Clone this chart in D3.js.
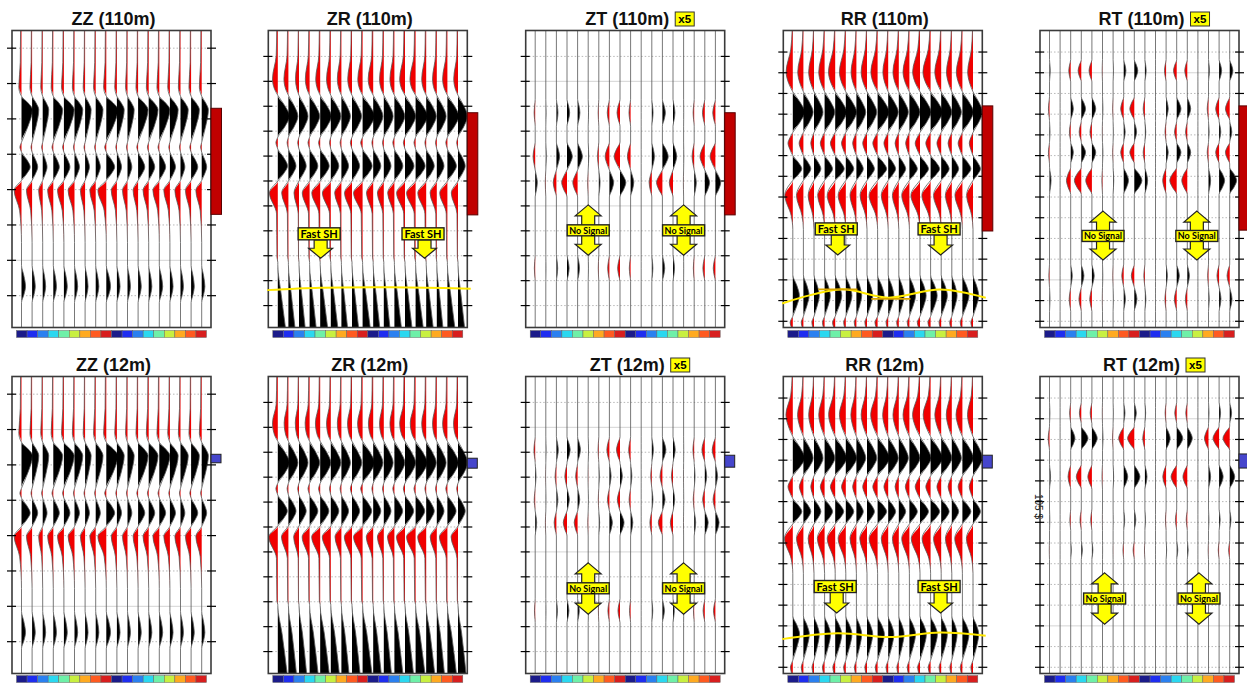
<!DOCTYPE html>
<html>
<head>
<meta charset="utf-8">
<script src="https://cdn.jsdelivr.net/npm/d3@7"></script>
<style>
  body { margin: 0; background: #fff; }
  text { font-family: "Liberation Sans", Arial, sans-serif; }
  .note { font-family: Lato, "Liberation Sans", sans-serif; font-weight: bold; }
</style>
</head>
<body>
<svg id="chart"></svg>
<script>
// ---- component time axes (ms) ----
var compTmax = [420, 596, 596, 717, 717];
var zzTicks = [25, 75, 125, 175, 225, 275, 325, 375];
var zrTicks = [52, 102, 152, 202, 252, 302, 352, 402, 452, 502, 552];
var rrTicks = [52, 102, 152, 202, 252, 302, 352, 402, 452, 502, 552, 602, 652, 702];
var zzSolid = [75, 325];
var zrSolid = [102, 352];
var rrSolid = [102, 602];

var titles110 = ["ZZ (110m)", "ZR (110m)", "ZT (110m)", "RR (110m)", "RT (110m)"];
var titles12 = ["ZZ (12m)", "ZR (12m)", "ZT (12m)", "RR (12m)", "RT (12m)"];
var gainFlag = [false, false, true, false, true];

// colour bar under each panel (18 receivers)
var barColors = ["#1b1b8a", "#1e2df0", "#2a80f0", "#2ad8f0", "#6ef0a8", "#c8f040", "#ffaa20", "#ff5a20", "#d81e1e",
                 "#1b1b8a", "#1e2df0", "#2a80f0", "#2ad8f0", "#6ef0a8", "#c8f040", "#ffaa20", "#ff5a20", "#d81e1e"];

// analysis windows (ms)
var win110 = [[110, 260], [165, 370], [165, 370], [182, 484], [182, 482]];
var win12 = [[110, 122], [164, 184], [158, 182], [190, 221], [187, 221]];

// ---- ZZ ----
var zz110Times = [[0, 45, 80, 93], [93, 112, 158], [158, 165, 172], [172, 193, 212], [212, 226, 255, 300], [332, 362, 385]];
var zz110Shape = [[0.35, 0.45, 1, 0], null, null, null, [0, 1, 0.25, 0], null];
var zz110Amp = [
  [-0.25, -0.2, -0.18, -0.2, -0.22, -0.2, -0.18, -0.2, -0.25, -0.2, -0.18, -0.2, -0.22, -0.22, -0.2, -0.2, -0.2, -0.22],
  [1.04, 0.63, 0.57, 0.88, 0.97, 0.78, 0.57, 0.69, 1.1, 0.69, 0.63, 0.94, 0.88, 1.0, 0.78, 0.73, 0.78, 0.63],
  [-0.15, -0.1, -0.1, -0.12, -0.12, -0.1, -0.1, -0.1, -0.15, -0.1, -0.1, -0.12, -0.12, -0.12, -0.1, -0.1, -0.12, -0.1],
  [0.82, 0.53, 0.41, 0.57, 0.57, 0.47, 0.41, 0.44, 0.79, 0.44, 0.41, 0.63, 0.57, 0.6, 0.53, 0.41, 0.63, 0.47],
  [-0.69, -0.53, -0.38, -0.53, -0.6, -0.6, -0.44, -0.55, -0.79, -0.53, -0.47, -0.47, -0.53, -0.6, -0.57, -0.53, -0.53, -0.55],
  [0.38, 0.3, 0.28, 0.3, 0.32, 0.3, 0.28, 0.3, 0.4, 0.3, 0.28, 0.3, 0.3, 0.32, 0.3, 0.28, 0.3, 0.3]
];
var zz12Times = zz110Times;
var zz12Shape = zz110Shape;
var zz12Amp = zz110Amp;

// ---- ZR ----
var zr110Times = [[0, 50, 97, 118, 130], [130, 172, 214], [214, 225, 238], [238, 272, 302], [302, 326, 368, 455, 465], [470, 530, 596]];
var zr110Shape = [[0.2, 0.3, 1, 0.6, 0], null, null, null, [0, 1, 0.15, 0.1, 0], [0, 0.45, 1, 0.4, 0.1]];
var zr110Amp = [
  [-0.5, -0.42, -0.33, -0.4, -0.42, -0.4, -0.38, -0.4, -0.45, -0.47, -0.4, -0.42, -0.5, -0.53, -0.42, -0.4, -0.45, -0.4],
  [1.1, 0.9, 0.85, 0.95, 1.05, 0.95, 0.85, 0.9, 1.12, 0.92, 0.88, 0.98, 1.0, 1.12, 0.95, 0.88, 1.08, 0.9],
  [-0.18, -0.12, -0.12, -0.15, -0.15, -0.12, -0.12, -0.15, -0.18, -0.12, -0.12, -0.15, -0.15, -0.15, -0.12, -0.12, -0.15, -0.12],
  [0.92, 0.72, 0.68, 0.78, 0.85, 0.76, 0.68, 0.72, 0.9, 0.72, 0.68, 0.8, 0.85, 0.9, 0.76, 0.68, 0.85, 0.68],
  [-0.79, -0.63, -0.47, -0.69, -0.79, -0.79, -0.63, -0.7, -0.85, -0.63, -0.6, -0.63, -0.79, -0.85, -0.79, -0.63, -0.72, -0.63],
  [0.72, 0.62, 0.58, 0.62, 0.7, 0.66, 0.58, 0.62, 0.72, 0.62, 0.58, 0.66, 0.66, 0.72, 0.66, 0.58, 0.7, 0.62]
];
var zr12Times = [[0, 55, 93, 118, 130], [130, 173, 214], [214, 225, 238], [238, 270, 300], [300, 322, 365, 450, 458], [460, 515, 596]];
var zr12Shape = zr110Shape;
var zr12Amp = [
  [-0.5, -0.4, -0.35, -0.42, -0.45, -0.4, -0.38, -0.42, -0.47, -0.45, -0.4, -0.42, -0.5, -0.5, -0.42, -0.4, -0.45, -0.42],
  [1.1, 0.9, 0.85, 0.95, 1.0, 0.95, 0.85, 0.92, 1.12, 0.92, 0.88, 0.98, 1.0, 1.1, 0.95, 0.88, 1.05, 0.92],
  [-0.18, -0.12, -0.12, -0.15, -0.15, -0.12, -0.12, -0.15, -0.18, -0.12, -0.12, -0.15, -0.15, -0.15, -0.12, -0.12, -0.15, -0.12],
  [0.9, 0.72, 0.68, 0.78, 0.82, 0.76, 0.68, 0.72, 0.86, 0.72, 0.68, 0.78, 0.82, 0.86, 0.76, 0.68, 0.82, 0.68],
  [-0.85, -0.65, -0.5, -0.7, -0.8, -0.8, -0.6, -0.72, -0.85, -0.65, -0.6, -0.65, -0.8, -0.85, -0.8, -0.62, -0.75, -0.65],
  [0.88, 0.76, 0.72, 0.8, 0.85, 0.8, 0.72, 0.76, 0.88, 0.76, 0.72, 0.8, 0.8, 0.88, 0.8, 0.72, 0.85, 0.76]
];

// ---- ZT (x5) ----
var zt110Times = [[138, 165, 192], [224, 253, 280], [280, 305, 334], [450, 477, 504]];
var zt110Shape = [null, null, null, null];
var zt110Amp = [
  [-0.1, 0.03, 0.15, 0.25, 0.22, 0.03, -0.06, -0.2, -0.28, -0.15, 0, 0.12, 0.28, 0.18, 0.01, -0.1, -0.22, -0.25],
  [-0.2, 0.05, 0.3, 0.5, 0.45, 0.05, -0.12, -0.4, -0.55, -0.3, 0, 0.25, 0.55, 0.35, 0.02, -0.2, -0.45, -0.5],
  [0.2, -0.05, -0.3, -0.5, -0.45, -0.05, 0.12, 0.4, 0.55, 0.3, 0, -0.25, -0.55, -0.35, -0.02, 0.2, 0.45, 0.5],
  [-0.08, 0.02, 0.12, 0.2, 0.18, 0.02, -0.05, -0.16, -0.22, -0.12, 0, 0.1, 0.22, 0.14, 0.01, -0.08, -0.18, -0.2]
];
var zt12Times = [[121, 147, 173], [174, 200, 224], [224, 247, 270], [270, 293, 320], [446, 470, 494]];
var zt12Shape = [null, null, null, null, null];
var zt12Amp = [
  [-0.12, 0.03, 0.18, 0.3, 0.27, 0.03, -0.07, -0.24, -0.33, -0.18, 0, 0.15, 0.33, 0.21, 0.01, -0.12, -0.27, -0.3],
  [0.08, -0.02, -0.12, -0.2, -0.18, -0.02, 0.05, 0.16, 0.22, 0.12, 0, -0.1, -0.22, -0.14, -0.01, 0.08, 0.18, 0.2],
  [-0.09, 0.02, 0.14, 0.22, 0.2, 0.02, -0.05, -0.18, -0.25, -0.14, 0, 0.11, 0.25, 0.16, 0.01, -0.09, -0.2, -0.22],
  [0.14, -0.04, -0.21, -0.35, -0.32, -0.04, 0.08, 0.28, 0.38, 0.21, 0, -0.18, -0.38, -0.25, -0.01, 0.14, 0.32, 0.35],
  [-0.07, 0.02, 0.1, 0.18, 0.16, 0.02, -0.04, -0.14, -0.19, -0.1, 0, 0.09, 0.19, 0.12, 0.01, -0.07, -0.16, -0.18]
];

// ---- RR ----
var rr110Times = [[0, 45, 100, 128, 148], [148, 197, 246], [246, 272, 302], [302, 334, 362], [362, 398, 447, 480], [590, 640, 690], [690, 705, 717]];
var rr110Shape = [[0.1, 0.3, 1, 0.6, 0], null, null, null, [0, 1, 0.2, 0], null, [0, 1, 0.5]];
var rr110Amp = [
  [-0.63, -0.53, -0.5, -0.55, -0.63, -0.6, -0.5, -0.55, -0.63, -0.5, -0.55, -0.6, -0.69, -0.72, -0.6, -0.5, -0.57, -0.5],
  [1.12, 0.92, 0.85, 0.96, 1.08, 1.02, 0.88, 0.92, 1.08, 0.95, 0.9, 1.0, 1.04, 1.12, 1.0, 0.9, 1.04, 0.9],
  [-0.45, -0.4, -0.3, -0.4, -0.45, -0.4, -0.35, -0.4, -0.45, -0.4, -0.35, -0.35, -0.45, -0.45, -0.4, -0.35, -0.4, -0.35],
  [0.85, 0.7, 0.65, 0.75, 0.85, 0.75, 0.65, 0.7, 0.85, 0.7, 0.65, 0.75, 0.8, 0.85, 0.75, 0.65, 0.8, 0.7],
  [-0.75, -0.65, -0.55, -0.65, -0.75, -0.72, -0.6, -0.65, -0.8, -0.65, -0.6, -0.72, -0.85, -0.82, -0.72, -0.6, -0.7, -0.6],
  [0.62, 0.54, 0.5, 0.54, 0.62, 0.58, 0.5, 0.54, 0.62, 0.54, 0.5, 0.58, 0.58, 0.62, 0.58, 0.5, 0.62, 0.54],
  [-0.25, -0.2, -0.2, -0.2, -0.25, -0.2, -0.2, -0.2, -0.25, -0.2, -0.2, -0.2, -0.25, -0.25, -0.2, -0.2, -0.2, -0.2]
];
var rr12Times = [[0, 45, 92, 122, 145], [145, 197, 240], [240, 266, 295], [295, 326, 356], [356, 391, 440, 475], [578, 622, 685], [685, 702, 717]];
var rr12Shape = rr110Shape;
var rr12Amp = [
  [-0.65, -0.55, -0.5, -0.55, -0.62, -0.6, -0.52, -0.55, -0.65, -0.52, -0.55, -0.6, -0.7, -0.7, -0.6, -0.52, -0.6, -0.52],
  [1.12, 0.92, 0.85, 0.96, 1.08, 1.02, 0.88, 0.92, 1.12, 0.95, 0.9, 1.0, 1.04, 1.12, 1.0, 0.9, 1.04, 0.9],
  [-0.45, -0.38, -0.3, -0.4, -0.45, -0.4, -0.35, -0.4, -0.45, -0.4, -0.35, -0.38, -0.45, -0.45, -0.4, -0.35, -0.4, -0.35],
  [0.85, 0.7, 0.65, 0.75, 0.8, 0.75, 0.65, 0.7, 0.85, 0.7, 0.65, 0.75, 0.8, 0.85, 0.75, 0.65, 0.8, 0.7],
  [-0.78, -0.65, -0.55, -0.68, -0.75, -0.72, -0.6, -0.68, -0.8, -0.65, -0.6, -0.72, -0.82, -0.8, -0.72, -0.6, -0.72, -0.62],
  [0.64, 0.56, 0.5, 0.56, 0.62, 0.58, 0.5, 0.54, 0.64, 0.54, 0.5, 0.58, 0.6, 0.64, 0.58, 0.5, 0.62, 0.54],
  [-0.22, -0.2, -0.18, -0.2, -0.22, -0.2, -0.18, -0.2, -0.22, -0.2, -0.18, -0.2, -0.22, -0.22, -0.2, -0.18, -0.2, -0.2]
];

// ---- RT (x5) ----
var rt110Times = [[70, 97, 124], [160, 189, 217], [219, 245, 269], [270, 294, 322], [330, 362, 396], [564, 592, 620], [620, 648, 678]];
var rt110Shape = [null, null, null, null, null, null, null];
var rt110Amp = [
  [0.07, 0, -0.18, -0.3, -0.27, -0.03, 0.03, 0.21, 0.33, 0.12, 0, -0.15, -0.3, -0.24, 0, 0.09, 0.24, 0.3],
  [-0.1, 0, 0.25, 0.4, 0.36, 0.04, -0.04, -0.28, -0.42, -0.16, 0, 0.2, 0.4, 0.32, 0, -0.12, -0.32, -0.4],
  [0.05, 0, -0.12, -0.2, -0.18, -0.02, 0.02, 0.14, 0.22, 0.08, 0, -0.1, -0.2, -0.16, 0, 0.06, 0.16, 0.2],
  [-0.1, 0, 0.25, 0.4, 0.36, 0.04, -0.04, -0.28, -0.42, -0.16, 0, 0.2, 0.4, 0.32, 0, -0.12, -0.32, -0.4],
  [0.15, 0, -0.4, -0.65, -0.58, -0.06, 0.06, 0.45, 0.72, 0.26, 0, -0.32, -0.65, -0.52, 0, 0.2, 0.52, 0.65],
  [-0.06, 0, 0.15, 0.25, 0.22, 0.03, -0.03, -0.18, -0.28, -0.1, 0, 0.12, 0.25, 0.2, 0, -0.08, -0.2, -0.25],
  [0.05, 0, -0.14, -0.22, -0.2, -0.02, 0.02, 0.16, 0.25, 0.09, 0, -0.11, -0.22, -0.18, 0, 0.07, 0.18, 0.22]
];
var rt12Times = [[62, 88, 114], [120, 149, 178], [212, 242, 272], [320, 346, 372], [396, 419, 442]];
var rt12Shape = [null, null, null, null, null];
var rt12Amp = [
  [0.04, 0, -0.1, -0.18, -0.16, -0.02, 0.02, 0.12, 0.19, 0.07, 0, -0.09, -0.18, -0.14, 0, 0.05, 0.14, 0.18],
  [-0.12, 0, 0.4, 0.63, 0.5, 0.05, -0.05, -0.47, -0.63, -0.2, 0, 0.38, 0.57, 0.47, 0, -0.38, -0.57, -0.63],
  [0.1, 0, -0.25, -0.47, -0.38, -0.05, 0.05, 0.38, 0.53, 0.2, 0, -0.31, -0.53, -0.41, 0, 0.2, 0.38, 0.47],
  [0.03, 0, -0.08, -0.12, -0.11, -0.01, 0.01, 0.09, 0.14, 0.05, 0, -0.06, -0.12, -0.1, 0, 0.04, 0.1, 0.12],
  [-0.02, 0, 0.06, 0.1, 0.09, 0.01, -0.01, -0.07, -0.11, -0.04, 0, 0.05, 0.1, 0.08, 0, -0.03, -0.08, -0.1]
];

// ---- annotations: [row, col], trace positions, box time, arrow tip / span ----
var fastShPanel = [[0, 1], [0, 3], [1, 3]];
var fastShIdx = [[3.9, 13.7], [4.1, 13.8], [4.0, 13.8]];
var fastShTime = [408, 479, 507];
var fastShTip = [457, 542, 571];

var noSigPanel = [[0, 2], [0, 4], [1, 2], [1, 4]];
var noSigIdx = [[5.0, 14.0], [5.05, 13.9], [5.0, 14.0], [5.2, 14.1]];
var noSigTime = [401, 496, 425, 536];
var noSigSpan = [[350, 451], [436, 554], [374, 477], [474, 598]];

// picked horizons (trace index, ms)
var pickPanel = [[0, 1], [0, 3], [1, 3]];
var pickLines = [
  [[-1, 521], [4, 516], [9, 515], [14, 516], [18.2, 518]],
  [[-1, 659], [4.5, 625], [9, 645], [13.9, 625], [18.2, 645]],
  [[-1, 634], [4.2, 620], [9.2, 629], [13.9, 618], [18.2, 626]]
];
var pickSegments = [[[2.4, 625], [6.1, 625]], [[7.4, 648], [11.1, 648]]];

// ---------------------------------------------------------------
var svg = d3.select("#chart").attr("width", 1247).attr("height", 687);
var frameW = 199, frameH = 297;
var colX = [12, 268.3, 525.7, 783.3, 1040];
var rowY = [30.5, 376.5];
var lobeShape = [0, 0.6, 1, 0.6, 0];   // default wavelet lobe: zero, shoulder, peak, shoulder, zero

var compTicks = [zzTicks, zrTicks, zrTicks, rrTicks, rrTicks];
var compSolid = [zzSolid, zrSolid, zrSolid, rrSolid, rrSolid];
var rowTitles = [titles110, titles12];
var rowWin = [win110, win12];
var rowTimes = [[zz110Times, zr110Times, zt110Times, rr110Times, rt110Times], [zz12Times, zr12Times, zt12Times, rr12Times, rt12Times]];
var rowShape = [[zz110Shape, zr110Shape, zt110Shape, rr110Shape, rt110Shape], [zz12Shape, zr12Shape, zt12Shape, rr12Shape, rt12Shape]];
var rowAmp = [[zz110Amp, zr110Amp, zt110Amp, rr110Amp, rt110Amp], [zz12Amp, zr12Amp, zt12Amp, rr12Amp, rt12Amp]];

function tracePoints(times, shape, amp, j, tmax) {
  var pts = [[0, 0]];
  times.forEach(function(ts, l) {
    var sh = shape[l], tt = ts;
    if (!sh) {
      // plain lobe: start, peak, end -> add shoulders half way
      tt = [ts[0], (ts[0] + ts[1]) / 2, ts[1], (ts[1] + ts[2]) / 2, ts[2]];
      sh = lobeShape;
    }
    tt.forEach(function(t, k) {
      var v = sh[k] * amp[l][j];
      var last = pts[pts.length - 1];
      if (t <= last[0]) {
        if (t === last[0] && v !== 0) last[1] = v;
        return;
      }
      pts.push([t, v]);
    });
  });
  if (pts[pts.length - 1][0] < tmax) pts.push([tmax, 0]);
  return pts;
}

var scales = {};

[0, 1].forEach(function(row) {
  [0, 1, 2, 3, 4].forEach(function(col) {
    var left = colX[col], top = rowY[row];
    var y = d3.scaleLinear().domain([0, compTmax[col]]).range([top, top + frameH]);
    var x = d3.scaleLinear().domain([0, 17]).range([left + 9.5, left + 189.7]);
    var amp = d3.scaleLinear().domain([0, 1]).range([0, 10.6]);
    scales[row + "-" + col] = {x: x, y: y};

    var g = svg.append("g");
    var clipId = "clip-" + row + "-" + col;
    svg.append("clipPath").attr("id", clipId)
      .append("rect").attr("x", left).attr("y", top).attr("width", frameW).attr("height", frameH);

    // gridlines
    g.selectAll("line.grid")
      .data(compTicks[col])
      .enter().append("line")
      .attr("class", "grid")
      .attr("x1", left).attr("x2", left + frameW)
      .attr("y1", function(d) { return y(d); })
      .attr("y2", function(d) { return y(d); })
      .attr("stroke", function(d) { return compSolid[col].indexOf(d) >= 0 ? "#cfcfcf" : "#b0b0b0"; })
      .attr("stroke-width", 0.9)
      .attr("stroke-dasharray", function(d) { return compSolid[col].indexOf(d) >= 0 ? null : "1.5,2"; });

    // wiggle traces
    var tg = g.append("g").attr("clip-path", "url(#" + clipId + ")");
    d3.range(18).forEach(function(j) {
      var pts = tracePoints(rowTimes[row][col], rowShape[row][col], rowAmp[row][col], j, compTmax[col]);
      var x0 = x(j);
      var pos = d3.area().curve(d3.curveMonotoneY)
        .y(function(d) { return y(d[0]); })
        .x0(x0)
        .x1(function(d) { return x0 + amp(Math.max(0, d[1])); });
      var neg = d3.area().curve(d3.curveMonotoneY)
        .y(function(d) { return y(d[0]); })
        .x0(x0)
        .x1(function(d) { return x0 + amp(Math.min(0, d[1])); });
      var ln = d3.line().curve(d3.curveMonotoneY)
        .y(function(d) { return y(d[0]); })
        .x(function(d) { return x0 + amp(d[1]); });
      tg.append("path").attr("d", neg(pts)).attr("fill", "#f00000");
      tg.append("path").attr("d", pos(pts)).attr("fill", "#000");
      tg.append("path").attr("d", ln(pts)).attr("fill", "none").attr("stroke", "#555").attr("stroke-width", 0.8);
    });

    // frame
    g.append("rect")
      .attr("x", left).attr("y", top).attr("width", frameW).attr("height", frameH)
      .attr("fill", "none").attr("stroke", "#3a3a3a").attr("stroke-width", 1.6);

    // tick marks on both sides
    g.selectAll("line.tl").data(compTicks[col]).enter().append("line")
      .attr("x1", left - 5).attr("x2", left + 4)
      .attr("y1", function(d) { return y(d); }).attr("y2", function(d) { return y(d); })
      .attr("stroke", "#000").attr("stroke-width", 1.2);
    g.selectAll("line.tr").data(compTicks[col]).enter().append("line")
      .attr("x1", left + frameW - 4).attr("x2", left + frameW + 5)
      .attr("y1", function(d) { return y(d); }).attr("y2", function(d) { return y(d); })
      .attr("stroke", "#000").attr("stroke-width", 1.2);

    // analysis window marker
    var w = rowWin[row][col];
    g.append("rect")
      .attr("x", left + frameW).attr("y", y(w[0]))
      .attr("width", row === 0 ? 10.5 : 10).attr("height", y(w[1]) - y(w[0]))
      .attr("fill", row === 0 ? "#c00000" : "#4646cc")
      .attr("stroke", row === 0 ? "#5a0000" : "#222").attr("stroke-width", 1);

    // colour bar
    var cb = d3.scaleBand().domain(d3.range(18)).range([left + 4.5, left + 194.5]);
    g.selectAll("rect.cb").data(barColors).enter().append("rect")
      .attr("x", function(d, i) { return cb(i); })
      .attr("y", top + frameH + (row === 0 ? 3 : 2))
      .attr("width", cb.bandwidth()).attr("height", 7)
      .attr("fill", function(d) { return d; })
      .attr("stroke", "#666").attr("stroke-width", 0.5);

    // title
    var title = g.append("text")
      .attr("x", left + frameW / 2 + 2).attr("y", top - 5.5)
      .attr("text-anchor", "middle")
      .style("font-size", "18px").style("font-weight", "bold").attr("fill", "#111")
      .text(rowTitles[row][col]);
    if (gainFlag[col]) {
      var tw = title.node().getComputedTextLength();
      var bx = left + frameW / 2 + 2 + tw / 2 + 6;
      g.append("rect").attr("x", bx).attr("y", top - 18.5).attr("width", 19).attr("height", 14)
        .attr("fill", "#ffff00").attr("stroke", "#333").attr("stroke-width", 1);
      g.append("text").attr("x", bx + 9.5).attr("y", top - 7.3).attr("text-anchor", "middle")
        .style("font-size", "11.5px").style("font-weight", "bold").text("x5");
    }
  });
});

// picked horizons
pickPanel.forEach(function(rc, k) {
  var s = scales[rc[0] + "-" + rc[1]];
  var ln = d3.line().curve(d3.curveCatmullRom)
    .x(function(d) { return s.x(d[0]); })
    .y(function(d) { return s.y(d[1]); });
  svg.append("path").attr("d", ln(pickLines[k]))
    .attr("fill", "none").attr("stroke", "#ffe800").attr("stroke-width", 2);
  if (k === 1) {
    pickSegments.forEach(function(seg) {
      svg.append("path").attr("d", d3.line().x(function(d) { return s.x(d[0]); }).y(function(d) { return s.y(d[1]); })(seg))
        .attr("fill", "none").attr("stroke", "#d9a400").attr("stroke-width", 1.6);
    });
  }
});

// "Fast SH" down arrows
fastShPanel.forEach(function(rc, k) {
  var s = scales[rc[0] + "-" + rc[1]];
  fastShIdx[k].forEach(function(idx) {
    var cx = s.x(idx), cy = s.y(fastShTime[k]), tip = s.y(fastShTip[k]);
    var ax = cx + 1.5;
    var poly = [[ax - 6.5, cy + 6], [ax + 6.5, cy + 6], [ax + 6.5, tip - 10], [ax + 12, tip - 10],
                [ax, tip], [ax - 12, tip - 10], [ax - 6.5, tip - 10]];
    svg.append("path").attr("d", d3.line()(poly) + "Z")
      .attr("fill", "#ffff00").attr("stroke", "#222").attr("stroke-width", 1.2);
    svg.append("rect").attr("x", cx - 21).attr("y", cy - 6).attr("width", 42).attr("height", 12)
      .attr("fill", "#ffff00").attr("stroke", "#222").attr("stroke-width", 1.4);
    svg.append("text").attr("class", "note").attr("x", cx).attr("y", cy + 4)
      .attr("text-anchor", "middle").style("font-size", "11px").text("Fast SH");
  });
});

// "No Signal" double arrows
noSigPanel.forEach(function(rc, k) {
  var s = scales[rc[0] + "-" + rc[1]];
  noSigIdx[k].forEach(function(idx) {
    var cx = s.x(idx), cy = s.y(noSigTime[k]);
    var y0 = s.y(noSigSpan[k][0]), y1 = s.y(noSigSpan[k][1]);
    var poly = [[cx, y0], [cx + 13, y0 + 11], [cx + 6.5, y0 + 11], [cx + 6.5, y1 - 11], [cx + 13, y1 - 11],
                [cx, y1], [cx - 13, y1 - 11], [cx - 6.5, y1 - 11], [cx - 6.5, y0 + 11], [cx - 13, y0 + 11]];
    svg.append("path").attr("d", d3.line()(poly) + "Z")
      .attr("fill", "#ffff00").attr("stroke", "#222").attr("stroke-width", 1.2);
    svg.append("rect").attr("x", cx - 21).attr("y", cy - 5.5).attr("width", 42).attr("height", 11)
      .attr("fill", "#ffff00").attr("stroke", "#222").attr("stroke-width", 1.4);
    svg.append("text").attr("class", "note").attr("x", cx).attr("y", cy + 3.3)
      .attr("text-anchor", "middle").style("font-size", "9px").text("No Signal");
  });
});

// stray rotated label on the RT (12m) axis
svg.append("text")
  .attr("transform", "translate(1035,494) rotate(90)")
  .style("font-size", "10px").attr("fill", "#222")
  .text("105 $");
</script>
</body>
</html>
